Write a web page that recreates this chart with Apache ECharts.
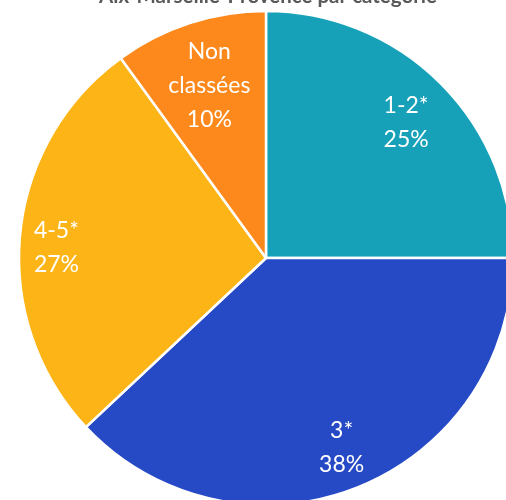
<!DOCTYPE html>
<html>
<head>
<meta charset="utf-8">
<script src="https://cdn.jsdelivr.net/npm/echarts@6/dist/echarts.min.js"></script>
<style>html,body{margin:0;padding:0;background:#fff;}#c{width:506px;height:500px;}</style>
</head>
<body>
<div id="c"></div>
<script>
// ---- data ----
const titleText = 'Aix-Marseille-Provence par catégorie';
const categories = ['1-2*', '3*', '4-5*', 'Non classées'];
const shares = [25, 38, 27, 10];

// ---- style ----
const colors = ['#17A1B9', '#264AC5', '#FDB416', '#FD891C'];
const R = 247;
const center = [266, 258];
const labelRatio = [0.79, 0.82, 0.84, 0.73];
const labelNudge = [[0, 5], [0, -2], [0, 9], [0, 2]];
const FONT = 'Lato, "Open Sans", sans-serif';

const chart = echarts.init(document.getElementById('c'));

function fmt(p) {
  return p.name.replace(' ', '\n') + '\n' + p.value + '%';
}

const mainSeries = {
  type: 'pie',
  center: center,
  radius: [0, R],
  startAngle: 90,
  clockwise: true,
  avoidLabelOverlap: false,
  silent: true,
  label: { show: false },
  labelLine: { show: false },
  itemStyle: { borderColor: '#ffffff', borderWidth: 2.5 },
  data: categories.map((c, i) => ({ name: c, value: shares[i], itemStyle: { color: colors[i] } }))
};

const labelSeries = categories.map((c, i) => ({
  type: 'pie',
  center: center,
  radius: [R * labelRatio[i] - 1, R * labelRatio[i] + 1],
  startAngle: 90,
  clockwise: true,
  avoidLabelOverlap: false,
  silent: true,
  z: 5,
  itemStyle: { color: 'transparent', borderWidth: 0 },
  labelLine: { show: false },
  labelLayout: function () { return { dx: labelNudge[i][0], dy: labelNudge[i][1] }; },
  label: {
    show: true,
    position: 'inside',
    color: '#ffffff',
    fontFamily: FONT,
    fontSize: 23,
    lineHeight: 34,
    formatter: fmt
  },
  data: categories.map((cc, j) => ({ name: cc, value: shares[j], label: { show: j === i } }))
}));

chart.setOption({
  backgroundColor: '#ffffff',
  animation: false,
  title: {
    text: titleText,
    left: 94,
    top: -19,
    textStyle: { color: '#595959', fontFamily: FONT, fontSize: 20.5, fontWeight: 'bold' }
  },
  series: [mainSeries].concat(labelSeries)
});
</script>
</body>
</html>
